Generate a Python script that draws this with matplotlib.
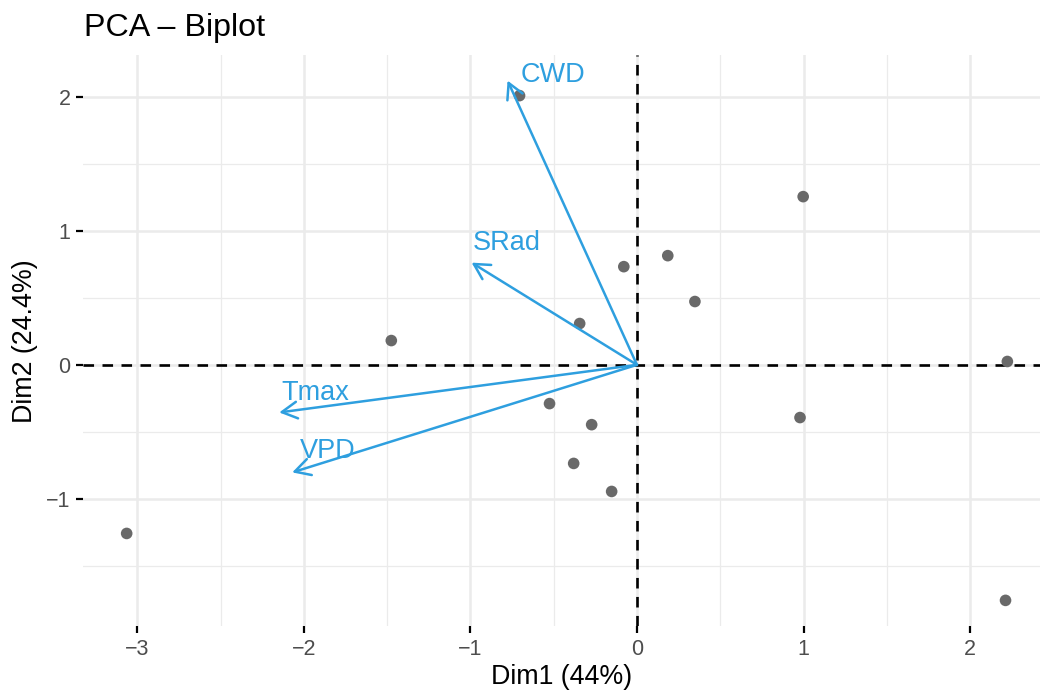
import matplotlib.pyplot as plt
from matplotlib.ticker import MultipleLocator

# individuals (PCA scores)
ind_x = [-0.705, 0.998, 0.185, -0.079, 0.348, -0.344, -1.475, 2.224,
         -0.525, -0.272, 0.979, -0.380, -0.152, -3.064, 2.213]
ind_y = [2.007, 1.254, 0.814, 0.732, 0.472, 0.308, 0.181, 0.025,
         -0.289, -0.446, -0.393, -0.735, -0.944, -1.257, -1.756]

# variables (loadings, scaled)
var_names = ["CWD", "SRad", "Tmax", "VPD"]
var_x = [-0.777, -0.993, -2.148, -2.070]
var_y = [2.119, 0.762, -0.355, -0.802]
label_x = [-0.506, -0.783, -1.932, -1.860]
label_y = [2.163, 0.911, -0.207, -0.646]

plt.rcParams['font.family'] = ['Liberation Sans', 'DejaVu Sans']

fig = plt.figure(figsize=(10.4, 6.96), dpi=100)
ax = fig.add_axes([0.080, 0.100, 0.920, 0.821])

blue = "#2E9FDF"

ax.axhline(0, color="black", lw=1.9, ls=(0, (4, 3.2)), zorder=2)
ax.axvline(0, color="black", lw=1.9, ls=(0, (4, 3.2)), zorder=2)

ax.scatter(ind_x, ind_y, s=70, color="#696969", edgecolors="none", zorder=3)

for x, y in zip(var_x, var_y):
    ax.annotate("", xy=(x, y), xytext=(0, 0),
                arrowprops=dict(arrowstyle="->,head_length=0.55,head_width=0.3",
                                color=blue, lw=1.8, shrinkA=0, shrinkB=0,
                                mutation_scale=20), zorder=4)
for name, x, y in zip(var_names, label_x, label_y):
    ax.text(x, y, name, color=blue, fontsize=19.5, ha="center", va="center", zorder=5)

ax.set_xlim(-3.325, 2.42)
ax.set_ylim(-1.95, 2.31)
ax.xaxis.set_major_locator(MultipleLocator(1))
ax.yaxis.set_major_locator(MultipleLocator(1))
ax.xaxis.set_minor_locator(MultipleLocator(0.5))
ax.yaxis.set_minor_locator(MultipleLocator(0.5))
ax.grid(which="major", color="#EBEBEB", lw=1.8, zorder=0)
ax.grid(which="minor", color="#EBEBEB", lw=0.9, zorder=0)
ax.set_axisbelow(True)
for s in ax.spines.values():
    s.set_visible(False)
ax.tick_params(which="major", length=5, width=1.6, color="black",
               labelsize=15.5, labelcolor="#4D4D4D", pad=4)
ax.tick_params(which="minor", length=0)

ax.set_xlabel("Dim1 (44%)", fontsize=19.3, labelpad=3)
ax.set_ylabel("Dim2 (24.4%)", fontsize=19.3, labelpad=6)
ax.set_title("PCA \u2013 Biplot", fontsize=23.2, loc="left", x=0.001, pad=14)

fig.savefig("out.png", dpi=100)
